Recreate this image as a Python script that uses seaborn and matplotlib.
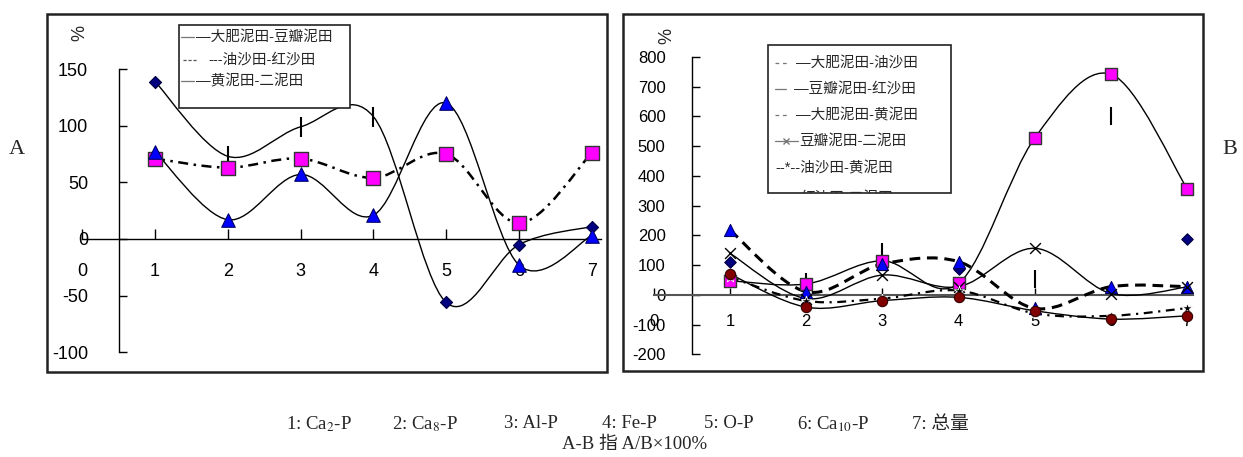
import numpy as np
import pandas as pd
import matplotlib
matplotlib.use('Agg')
import matplotlib.pyplot as plt
import seaborn as sns
from matplotlib.path import Path
from matplotlib.patches import PathPatch, Rectangle
from matplotlib.lines import Line2D

sns.set_theme(style="white")
plt.rcParams['font.family'] = ['Liberation Sans', 'Noto Sans CJK SC']
plt.rcParams['mathtext.fontset'] = 'stix'
plt.rcParams['axes.unicode_minus'] = False

# ====================== 数据 ======================
cats = [1, 2, 3, 4, 5, 6, 7]
xlabels = ['0', '1', '2', '3', '4', '5', '6', '7']

# A 图
a_dfdb = [139, 73, 99, 108, -56, -5, 11]      # 大肥泥田-豆瓣泥田
a_dfdb_dash = [False, True, True, True, False, False, False]
a_ysh = [71, 63, 71, 54, 75, 14, 76]          # 油沙田-红沙田
a_hne = [77, 17, 57, 21, 120, -23, 3]         # 黄泥田-二泥田
a_yticks = [-100, -50, 0, 50, 100, 150]

# B 图
b_dfys = [112, 42, 145, 86, 55, 602, 188]     # 大肥泥田-油沙田
b_dfys_dash = [False, True, True, False, True, True, False]
b_dbhs = [48, 37, 115, 39, 528, 742, 357]     # 豆瓣泥田-红沙田
b_dfhn = [218, 11, 104, 112, -45, 28, 28]     # 大肥泥田-黄泥田
b_dbe = [140, -12, 67, 28, 157, 5, 27]        # 豆瓣泥田-二泥田
b_yshn = [60, -20, -12, 15, -62, -70, -44]    # 油沙田-黄泥田
b_hse = [70, -41, -19, -8, -53, -81, -70]     # 红沙田-二泥田
b_yticks = [-200, -100, 0, 100, 200, 300, 400, 500, 600, 700, 800]

a_legend = ['—大肥泥田-豆瓣泥田', '---油沙田-红沙田', '—黄泥田-二泥田']
b_legend = ['—大肥泥田-油沙田', '—豆瓣泥田-红沙田', '—大肥泥田-黄泥田',
            '豆瓣泥田-二泥田', '--*--油沙田-黄泥田', '红沙田-二泥田']
captions = ['1: Ca$_\\mathrm{2}$-P', '2: Ca$_\\mathrm{8}$-P', '3: Al-P', '4: Fe-P',
            '5: O-P', '6: Ca$_\\mathrm{10}$-P', '7: 总量']
note = 'A-B 指 A/B×100%'

# ====================== 工具 ======================
W, H = 1243, 457
fig = plt.figure(figsize=(W / 100, H / 100), dpi=100)


def fx(px):
    return px / W


def fy(py):
    return 1 - py / H


def smooth(ax, x, y, **kw):
    # Excel 式平滑曲线 (Catmull-Rom -> Bezier)
    x = np.asarray(x, float)
    y = np.asarray(y, float)
    n = len(x)
    verts = [(x[0], y[0])]
    codes = [Path.MOVETO]
    for i in range(n - 1):
        a = i - 1 if i > 0 else i
        d = i + 2 if i + 2 < n else i + 1
        c1 = (x[i] + (x[i + 1] - x[a]) / 6, y[i] + (y[i + 1] - y[a]) / 6)
        c2 = (x[i + 1] - (x[d] - x[i]) / 6, y[i + 1] - (y[d] - y[i]) / 6)
        verts += [c1, c2, (x[i + 1], y[i + 1])]
        codes += [Path.CURVE4] * 3
    ax.add_patch(PathPatch(Path(verts, codes), fill=False, zorder=3, **kw))


def pts(ax, x, y, **kw):
    df = pd.DataFrame({'x': x, 'y': y})
    sns.scatterplot(data=df, x='x', y='y', ax=ax, legend=False, zorder=4, **kw)
    ax.set_xlabel('')
    ax.set_ylabel('')


def setup(ax, xlim, ylim, yticks, xend, ypad, xpad, fs, ylen, xlen):
    ax.set_xlim(xlim)
    ax.set_ylim(ylim)
    ax.set_facecolor('white')
    for s in ['top', 'right']:
        ax.spines[s].set_visible(False)
    ax.spines['left'].set_position(('data', 0.5))
    ax.spines['left'].set_bounds(yticks[0], yticks[-1])
    ax.spines['bottom'].set_position(('data', 0))
    ax.spines['bottom'].set_bounds(0, xend)
    for s in ['left', 'bottom']:
        ax.spines[s].set_color('black')
        ax.spines[s].set_linewidth(1.0)
    ax.set_yticks(yticks)
    ax.set_xticks(range(8))
    ax.set_xticklabels(xlabels)
    ax.tick_params(axis='y', direction='in', length=ylen, width=1, pad=ypad,
                   labelsize=fs, colors='black', left=True)
    ax.tick_params(axis='x', direction='in', length=xlen, width=1, pad=xpad,
                   labelsize=fs, colors='black', bottom=True)
    ax.add_patch(Rectangle((0, 0), 1, 1, transform=ax.transAxes, fill=False,
                           lw=1.8, ec='#222222', clip_on=False, zorder=6))


def fig_line(xs, ys, **kw):
    fig.add_artist(Line2D([fx(v) for v in xs], [fy(v) for v in ys],
                          transform=fig.transFigure, zorder=8, **kw))


# ====================== A 图 ======================
ax1 = fig.add_axes([fx(47), fy(372), (607 - 47) / W, (372 - 14) / H])
setup(ax1, (-0.484, 7.209), (-117.4, 198.6), a_yticks, 7.12, 22, 17, 13, 6, 7)

smooth(ax1, cats, a_dfdb, ec='black', lw=1.0)
smooth(ax1, cats, a_ysh, ec='black', lw=1.8, ls=(0, (4, 2.2, 1, 2.2)))
smooth(ax1, cats, a_hne, ec='black', lw=1.0)

m = np.array(a_dfdb_dash)
pts(ax1, np.array(cats)[~m], np.array(a_dfdb)[~m], marker='D', s=38,
    color='#000080', edgecolor='#000040', linewidth=0.8)
pts(ax1, np.array(cats)[m], np.array(a_dfdb)[m], marker='|', s=190,
    color='black', linewidth=1.5)
pts(ax1, cats, a_ysh, marker='s', s=95, color='#FF00FF', edgecolor='#333333', linewidth=1.0)
pts(ax1, cats, a_hne, marker='^', s=95, color='#0000FF', edgecolor='#000066', linewidth=0.8)

fig.text(fx(74), fy(33), '%', rotation=-90, fontsize=13, ha='center', va='center')

# 图例 A
leg1 = Rectangle((fx(179), fy(108)), fx(350) - fx(179), fy(25) - fy(108),
                 transform=fig.transFigure, fc='white', ec='#222222', lw=1.2, zorder=7)
fig.add_artist(leg1)
leg_y1 = [37, 60, 81]
fig_line([181, 194], [leg_y1[0]] * 2, color='#777777', lw=0.9)
fig_line([183, 197], [leg_y1[1]] * 2, color='#555555', lw=0.9, ls=(0, (2.5, 1.5)))
fig_line([181, 194], [leg_y1[2]] * 2, color='#777777', lw=0.9)
for lab, yy, xx in zip(a_legend, leg_y1, [196, 208, 196]):
    fig.text(fx(xx), fy(yy), lab, fontsize=10.5, ha='left', va='center', zorder=9)

# ====================== B 图 ======================
ax2 = fig.add_axes([fx(623), fy(371), (1203 - 623) / W, (371 - 14) / H])
setup(ax2, (-0.404, 7.207), (-255.5, 944.5), b_yticks, 7.08, 19, 14, 12, 6, 5)
ax2.spines['bottom'].set_color('#555555')
ax2.spines['bottom'].set_linewidth(1.5)

smooth(ax2, cats, b_dbhs, ec='black', lw=1.0)
smooth(ax2, cats, b_dfhn, ec='black', lw=2.2, ls=(0, (3.5, 2.2)))
smooth(ax2, cats, b_dbe, ec='black', lw=1.0)
smooth(ax2, cats, b_yshn, ec='black', lw=1.6, ls=(0, (4, 2.5, 1, 2.5)))
smooth(ax2, cats, b_hse, ec='black', lw=1.0)

m = np.array(b_dfys_dash)
pts(ax2, np.array(cats)[~m], np.array(b_dfys)[~m], marker='D', s=34,
    color='#000080', edgecolor='#000040', linewidth=0.8)
pts(ax2, np.array(cats)[m], np.array(b_dfys)[m], marker='|', s=150,
    color='black', linewidth=1.5)
pts(ax2, cats, b_dbhs, marker='s', s=65, color='#FF00FF', edgecolor='#333333', linewidth=1.0)
pts(ax2, cats, b_dfhn, marker='^', s=75, color='#0000FF', edgecolor='#000066', linewidth=0.8)
pts(ax2, cats, b_dbe, marker='x', s=60, color='black', linewidth=1.0)
pts(ax2, cats, b_yshn, marker='*', s=60, color='black', linewidth=0.6)
pts(ax2, cats, b_hse, marker='o', s=55, color='#800000', edgecolor='#330000', linewidth=0.8)

fig.text(fx(661), fy(36), '%', rotation=-90, fontsize=13, ha='center', va='center')

# 图例 B
leg2 = Rectangle((fx(768), fy(193)), fx(951) - fx(768), fy(45) - fy(193),
                 transform=fig.transFigure, fc='white', ec='#222222', lw=1.2, zorder=7)
fig.add_artist(leg2)
leg_y2 = [63, 89, 115, 141, 168, 198]
for yy in [leg_y2[0], leg_y2[2]]:
    fig_line([775, 788], [yy] * 2, color='#777777', lw=0.9, ls=(0, (3, 3)))
fig_line([775, 786], [leg_y2[1]] * 2, color='#777777', lw=0.9)
fig_line([775, 786, 798], [leg_y2[3]] * 3, color='#777777', lw=0.9,
         marker='x', markersize=4, markevery=[1])
for lab, yy, xx in zip(b_legend, leg_y2, [796, 794, 796, 799, 775, 800]):
    t = fig.text(fx(xx), fy(yy), lab, fontsize=10.5, ha='left', va='center', zorder=9)
    t.set_clip_path(leg2)

# ====================== 标注 ======================
fig.text(fx(17), fy(150), 'A', fontsize=16, family='Liberation Serif', ha='center', va='center')
fig.text(fx(1230), fy(150), 'B', fontsize=16, family='Liberation Serif', ha='center', va='center')

cap_x = [286, 392, 504, 602, 704, 797, 912]
for lab, xx in zip(captions, cap_x):
    fig.text(fx(xx), fy(424), lab, fontsize=13.5, ha='left', va='center',
             family=['Liberation Serif', 'Noto Sans CJK SC'])
fig.text(fx(635), fy(444), note, fontsize=13.5, ha='center', va='center',
         family=['Liberation Serif', 'Noto Sans CJK SC'])

fig.savefig('out.png', dpi=100)
